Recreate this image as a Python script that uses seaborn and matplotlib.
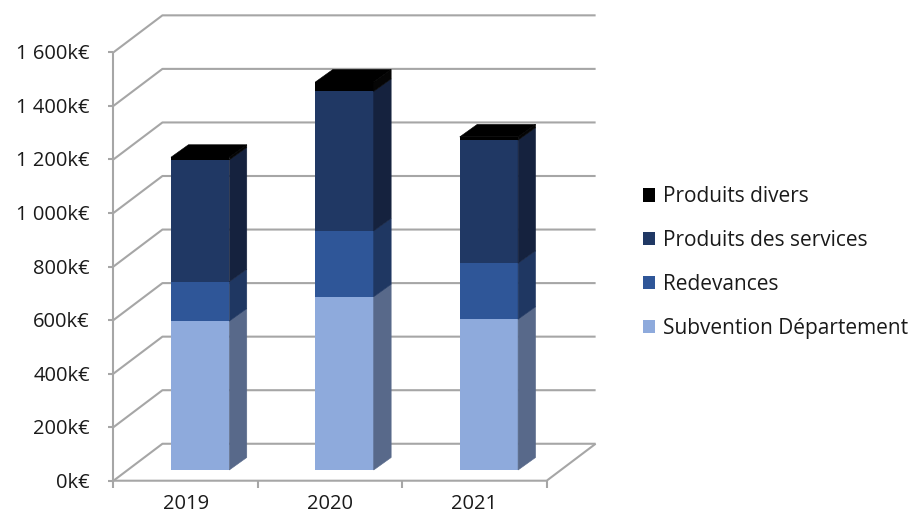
import matplotlib
matplotlib.use("Agg")
import matplotlib.pyplot as plt
import matplotlib.transforms as mtransforms
from matplotlib.patches import Patch
import numpy as np
import seaborn as sns

# ---- data (k€) ----
years = ["2019", "2020", "2021"]
subvention = [556, 647, 563]
redevances = [147, 246, 209]
services = [455, 521, 460]
divers = [10, 35, 12]
series_names = ["Subvention Département", "Redevances",
                "Produits des services", "Produits divers"]
tick_values = [0, 200, 400, 600, 800, 1000, 1200, 1400, 1600]

# ---- styling ----
front_colors = ["#8EAADC", "#2F5698", "#203864", "#000000"]
side_colors = ["#58698A", "#1F3762", "#15223E", "#050505"]
top_color = "#000000"
grid_color = "#A6A6A6"
text_color = "#1A1A1A"

# oblique 3-D geometry, in data units (x: category, y: k€)
BAR_W = 0.404
WALL_DX, WALL_DV = 0.339, 138.0      # depth of the chart walls
FACE_DX, FACE_DV = 0.100, 40.0       # bars' front face sits behind the front plane
BAR_DX, BAR_DV = 0.121, 46.7         # depth of each bar

sns.set_theme(style="white")
plt.rcParams["font.family"] = ["Open Sans", "DejaVu Sans"]

fig = plt.figure(figsize=(9.14, 5.19), dpi=100)
ax = fig.add_axes([0, 0, 1, 1])

x_front = -0.5
x_end = len(years) - 0.5

# ---- walls and floor ----
grid_kw = dict(color=grid_color, lw=1.5, zorder=1, solid_capstyle="butt")
for t in tick_values:
    ax.plot([x_front, x_front + WALL_DX, x_end + WALL_DX],
            [t, t + WALL_DV, t + WALL_DV], **grid_kw)
# floor front edge and right edge
ax.plot([x_front, x_end, x_end + WALL_DX], [0, 0, WALL_DV], **grid_kw)
# value axis
ax.plot([x_front, x_front], [0, tick_values[-1]], **grid_kw)
for t in tick_values:
    ax.plot([x_front - 0.035, x_front], [t, t], **grid_kw)
    label = f"{t:,}".replace(",", " ") + "k€"
    ax.text(x_front - 0.163, t - 7.5, label, ha="right", va="center",
            fontsize=14.5, color=text_color)
# category ticks and labels
for i in range(len(years) + 1):
    xc = x_front + i
    ax.plot([xc, xc], [0, -26], **grid_kw)
for i, y in enumerate(years):
    ax.text(i, -86, y, ha="center", va="center", fontsize=14.5, color=text_color)

# ---- stacked bars: front faces via seaborn ----
stack = np.array([subvention, redevances, services, divers], dtype=float)
cum = np.cumsum(stack, axis=0)
face_shift = mtransforms.Affine2D().translate(FACE_DX, FACE_DV) + ax.transData
for level in reversed(range(len(series_names))):
    n_before = len(ax.patches)
    sns.barplot(x=years, y=cum[level], order=years, color=front_colors[level],
                width=BAR_W, saturation=1, errorbar=None, linewidth=0,
                zorder=3, ax=ax)
    for p in ax.patches[n_before:]:
        p.set_transform(face_shift)

# ---- side and top faces ----
for i in range(len(years)):
    x_l = i - BAR_W / 2 + FACE_DX
    x_r = i + BAR_W / 2 + FACE_DX
    for level in range(len(series_names)):
        lo = (cum[level - 1, i] if level > 0 else 0) + FACE_DV
        hi = cum[level, i] + FACE_DV
        ax.fill([x_r, x_r + BAR_DX, x_r + BAR_DX, x_r],
                [lo, lo + BAR_DV, hi + BAR_DV, hi],
                color=side_colors[level], lw=0.4, zorder=3)
    top = cum[-1, i] + FACE_DV
    ax.fill([x_l, x_r, x_r + BAR_DX, x_l + BAR_DX],
            [top, top, top + BAR_DV, top + BAR_DV],
            color=top_color, lw=0.4, zorder=3)

# ---- view ----
ax.set_xlim(-1.286, 5.044)
ax.set_ylim(-143.0, 1795.3)
ax.set_axis_off()

handles = [Patch(facecolor=front_colors[k], edgecolor="none", label=series_names[k])
           for k in reversed(range(len(series_names)))]
fig.legend(handles=handles, loc="center left", bbox_to_anchor=(0.7035, 0.494),
           frameon=False, fontsize=15, handlelength=0.6, handleheight=0.6,
           handletextpad=0.35, labelspacing=1.1, borderpad=0, borderaxespad=0,
           labelcolor=text_color)

fig.savefig("out.png", dpi=100, facecolor="white")
